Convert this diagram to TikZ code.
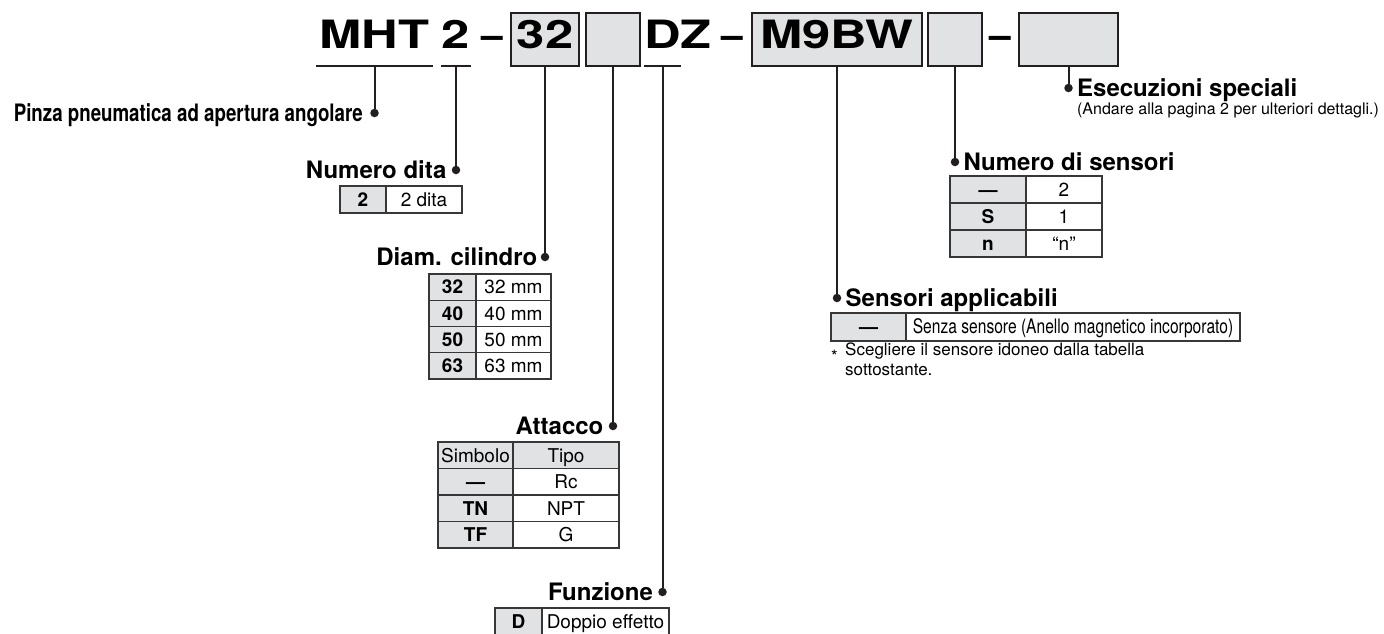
\documentclass[tikz,border=0pt]{standalone}
\usepackage{fontspec}
\setmainfont{TeX Gyre Heros}
\newfontfamily\codefont{TeX Gyre Heros}[FakeStretch=1.3]
\newfontfamily\condfont{TeX Gyre Heros}[FakeStretch=0.78]
\usetikzlibrary{positioning}
\definecolor{inkcol}{RGB}{35,31,32}
\definecolor{cellgray}{RGB}{225,226,228}
\definecolor{tabline}{RGB}{55,55,55}
\tikzset{
  codetxt/.style={font=\codefont\bfseries\fontsize{39}{39}\selectfont, inner sep=0pt, outer sep=0pt,
    minimum height=53pt, text height=28pt, text depth=11pt},
  codebox/.style={codetxt, draw=inkcol, fill=cellgray, line width=2pt},
  codedash/.style={font=\bfseries\fontsize{39}{39}\selectfont, inner sep=0pt},
  conn/.style={draw=inkcol, line width=2pt},
  dot/.style={circle, fill=inkcol, inner sep=0pt, minimum size=8.5pt},
  heading/.style={font=\bfseries\fontsize{24}{24}\selectfont, inner sep=0pt, text height=17pt, text depth=0pt},
  note/.style={font=\fontsize{16}{19}\selectfont, inner sep=0pt},
  cellkey/.style={draw=tabline, fill=cellgray, line width=1.2pt, inner sep=0pt, outer sep=0pt,
    minimum height=27pt, text height=13.5pt, text depth=0pt, font=\bfseries\fontsize{19}{19}\selectfont},
  cellval/.style={cellkey, fill=white, font=\fontsize{19}{19}\selectfont},
  tabtop/.style={draw=tabline, line width=2.6pt},
}
\begin{document}
\begin{tikzpicture}[x=1pt, y=-1pt]
  \useasboundingbox (0,0) rectangle (1384,633);
  % model code
  \node[codetxt, minimum width=117pt] (mht) at (374.5,39.5) {MHT};
  \node[codetxt, minimum width=30pt] (fing) at (456,39.5) {2};
  \node[codedash, anchor=base] (dash1) at (492.5,48) {–};
  \node[codebox, minimum width=68pt] (bore) at (545,39.5) {32};
  \node[codebox, minimum width=54pt] (port) at (613,39.5) {};
  \node[codetxt, minimum width=30pt] (func) at (662.5,39.5) {D};
  \node[codetxt, anchor=west] (zed) at (680,39.5) {Z};
  \node[codedash, anchor=base] (dash2) at (732.5,48) {–};
  \node[codebox, minimum width=170pt] (sw) at (837,39.5) {M9BW};
  \node[codebox, minimum width=54pt] (swnum) at (955,39.5) {};
  \node[codedash, anchor=base] (dash3) at (1000.5,48) {–};
  \node[codebox, minimum width=99pt] (spec) at (1068.5,39.5) {};
  \draw[conn] (mht.south west) -- (mht.south east);
  \draw[conn] (fing.south west) -- (fing.south east);
  \draw[conn] (func.south west) -- (func.south east);

  % dots and leaders
  \node[dot] (dmht) at (374.5,113) {};
  \node[dot] (dfing) at (456,170) {};
  \node[dot] (dbore) at (545,257) {};
  \node[dot] (dport) at (613,426) {};
  \node[dot] (dfunc) at (662.5,592) {};
  \node[dot] (dsw) at (837,298) {};
  \node[dot] (dswnum) at (955,162) {};
  \node[dot] (dspec) at (1068.5,88) {};
  \draw[conn] (mht.south) -- (dmht);
  \draw[conn] (fing.south) -- (dfing);
  \draw[conn] (bore.south) -- (dbore);
  \draw[conn] (port.south) -- (dport);
  \draw[conn] (func.south) -- (dfunc);
  \draw[conn] (sw.south) -- (dsw);
  \draw[conn] (swnum.south) -- (dswnum);
  \draw[conn] (spec.south) -- (dspec);

  % headings
  \node[heading, font=\condfont\bfseries\fontsize{24}{24}\selectfont, left=7pt of dmht] (lmht) {Pinza pneumatica ad apertura angolare};
  \node[heading, left=5pt of dfing] (lfing) {Numero dita};
  \node[heading, left=3pt of dbore] (lbore) {Diam. cilindro};
  \node[heading, left=5pt of dport] (lport) {Attacco};
  \node[heading, left=5pt of dfunc] (lfunc) {Funzione};
  \node[heading, right=4pt of dsw] (lsw) {Sensori applicabili};
  \node[heading, right=4pt of dswnum] (lswnum) {Numero di sensori};
  \node[heading, right=4pt of dspec] (lspec) {Esecuzioni speciali};
  \node[note, anchor=base west] (nspec) at ([yshift=-17.5pt]lspec.base west) {(Andare alla pagina 2 per ulteriori dettagli.)};

  % Numero dita
  \node[cellkey, minimum width=46pt, anchor=north west] (fing1) at (340,186) {2};
  \node[cellval, minimum width=76pt, right=0pt of fing1] (fing1v) {2 dita};
  \draw[tabtop] (fing1.north west) -- (fing1v.north east);

  % Diam. cilindro
  \node[cellkey, minimum width=47pt, minimum height=26.25pt, anchor=north west] (bore1) at (429,274) {32};
  \node[cellval, minimum width=75pt, minimum height=26.25pt, right=0pt of bore1] (bore1v) {32 mm};
  \node[cellkey, minimum width=47pt, minimum height=26.25pt, below=0pt of bore1] (bore2) {40};
  \node[cellval, minimum width=75pt, minimum height=26.25pt, right=0pt of bore2] (bore2v) {40 mm};
  \node[cellkey, minimum width=47pt, minimum height=26.25pt, below=0pt of bore2] (bore3) {50};
  \node[cellval, minimum width=75pt, minimum height=26.25pt, right=0pt of bore3] (bore3v) {50 mm};
  \node[cellkey, minimum width=47pt, minimum height=26.25pt, below=0pt of bore3] (bore4) {63};
  \node[cellval, minimum width=75pt, minimum height=26.25pt, right=0pt of bore4] (bore4v) {63 mm};
  \draw[tabtop] (bore1.north west) -- (bore1v.north east);

  % Attacco
  \node[cellval, fill=cellgray, minimum width=75pt, minimum height=26.5pt, anchor=north west] (port0) at (438,442) {Simbolo};
  \node[cellval, fill=cellgray, minimum width=106pt, minimum height=26.5pt, right=0pt of port0] (port0v) {Tipo};
  \node[cellkey, minimum width=75pt, minimum height=26.5pt, below=0pt of port0] (port1) {—};
  \node[cellval, minimum width=106pt, minimum height=26.5pt, right=0pt of port1] (port1v) {Rc};
  \node[cellkey, minimum width=75pt, minimum height=26.5pt, below=0pt of port1] (port2) {TN};
  \node[cellval, minimum width=106pt, minimum height=26.5pt, right=0pt of port2] (port2v) {NPT};
  \node[cellkey, minimum width=75pt, minimum height=26.5pt, below=0pt of port2] (port3) {TF};
  \node[cellval, minimum width=106pt, minimum height=26.5pt, right=0pt of port3] (port3v) {G};
  \draw[tabtop] (port0.north west) -- (port0v.north east);

  % Funzione
  \node[cellkey, minimum width=47pt, anchor=north west] (func1) at (495,608) {D};
  \node[cellval, minimum width=127pt, right=0pt of func1] (func1v) {Doppio effetto};
  \draw[tabtop] (func1.north west) -- (func1v.north east);

  % Sensori applicabili
  \node[cellkey, minimum width=75pt, minimum height=28pt, anchor=north west] (sw1) at (831,313) {—};
  \node[cellval, font=\condfont\fontsize{20}{20}\selectfont, minimum width=334pt, minimum height=28pt, right=0pt of sw1] (sw1v) {Senza sensore (Anello magnetico incorporato)};
  \draw[tabtop] (sw1.north west) -- (sw1v.north east);
  \node[note, font=\fontsize{17}{17}\selectfont, anchor=base west] (swast) at (831,362) {*};
  \node[note, font=\fontsize{17}{20}\selectfont, align=left, anchor=north west] (swnote) at (845,343) {Scegliere il sensore idoneo dalla tabella\\sottostante.};

  % Numero di sensori
  \node[cellkey, minimum width=76pt, anchor=north west] (swnum1) at (950,176) {—};
  \node[cellval, minimum width=76pt, right=0pt of swnum1] (swnum1v) {2};
  \node[cellkey, minimum width=76pt, below=0pt of swnum1] (swnum2) {S};
  \node[cellval, minimum width=76pt, right=0pt of swnum2] (swnum2v) {1};
  \node[cellkey, minimum width=76pt, below=0pt of swnum2] (swnum3) {n};
  \node[cellval, minimum width=76pt, right=0pt of swnum3] (swnum3v) {“n”};
  \draw[tabtop] (swnum1.north west) -- (swnum1v.north east);
\end{tikzpicture}
\end{document}
